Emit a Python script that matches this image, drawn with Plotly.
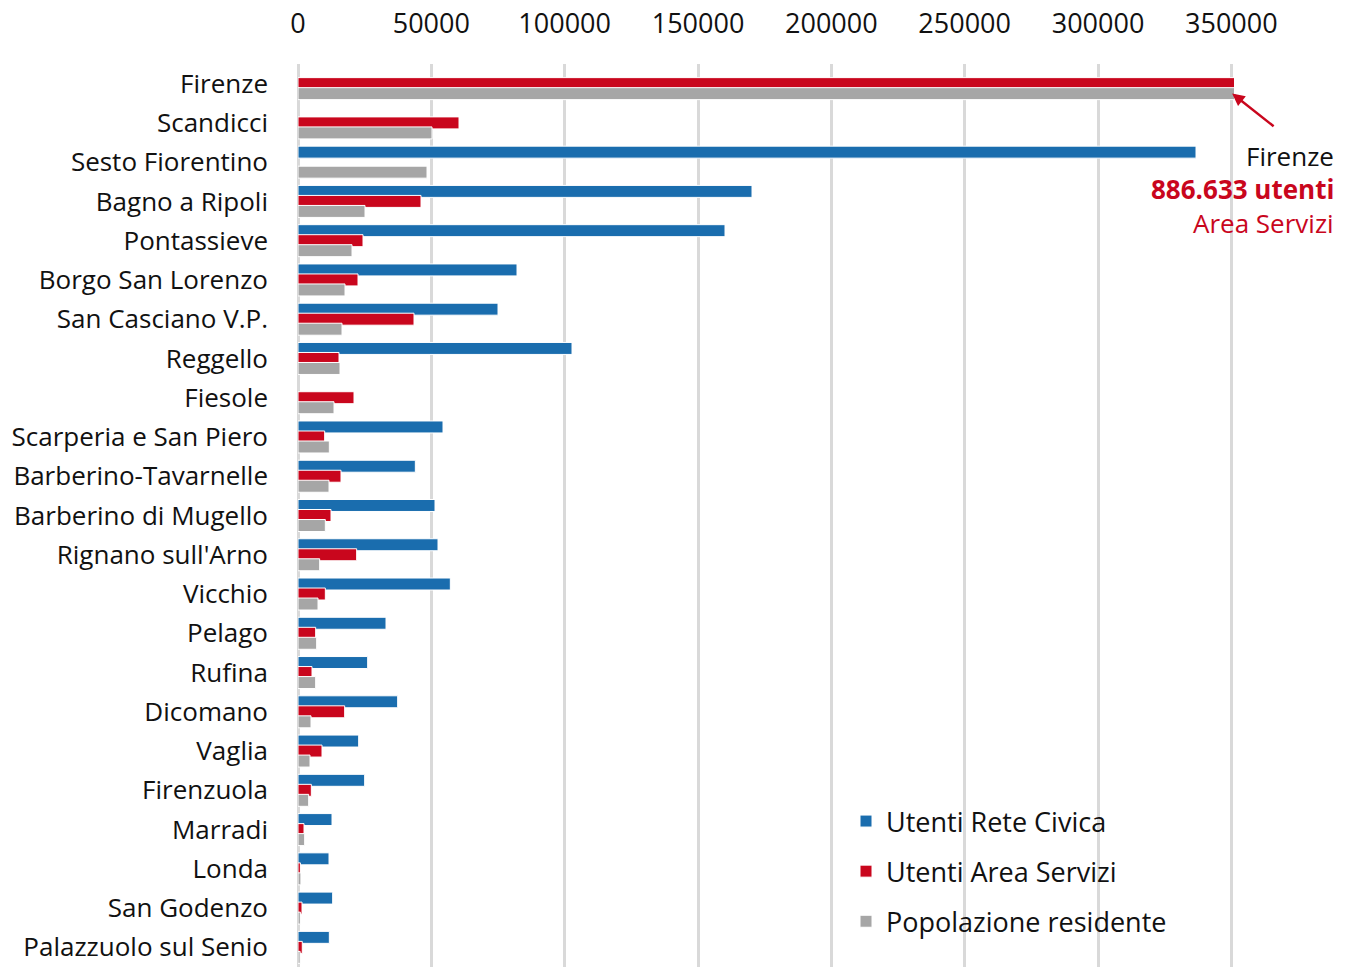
import plotly.graph_objects as go

comuni = ["Firenze", "Scandicci", "Sesto Fiorentino", "Bagno a Ripoli", "Pontassieve",
          "Borgo San Lorenzo", "San Casciano V.P.", "Reggello", "Fiesole",
          "Scarperia e San Piero", "Barberino-Tavarnelle", "Barberino di Mugello",
          "Rignano sull'Arno", "Vicchio", "Pelago", "Rufina", "Dicomano", "Vaglia",
          "Firenzuola", "Marradi", "Londa", "San Godenzo", "Palazzuolo sul Senio"]

utenti_rete_civica = [None, None, 336750, 170250, 160125, 82125, 75000, 102750, None,
                      54375, 44000, 51375, 52500, 57125, 33000, 26125, 37375, 22750,
                      25000, 12750, 11625, 13000, 11750]
utenti_area_servizi = [886633, 60375, None, 46125, 24375, 22500, 43500, 15375, 21000,
                       10000, 16125, 12375, 22000, 10250, 6625, 5250, 17500, 9000,
                       5000, 2250, 900, 1500, 1600]
popolazione_residente = [367000, 50250, 48375, 25125, 20250, 17625, 16500, 15750, 13500,
                         11750, 11625, 10250, 8125, 7500, 7000, 6625, 4875, 4500,
                         4000, 2500, 1100, 900, 800]

x_ticks = [0, 50000, 100000, 150000, 200000, 250000, 300000, 350000]

BLUE = "#1a6dae"
RED = "#c9061d"
GRAY = "#a6a6a6"
FONT = "Open Sans"

# figure is drawn inside an 8px page margin
FW, FH = 1338, 959
L, T, PW, PH = 290, 56, 936, 903

W = 0.305
STEP = 0.255
series = [
    ("Utenti Rete Civica", utenti_rete_civica, BLUE, -STEP - W / 2),
    ("Utenti Area Servizi", utenti_area_servizi, RED, -W / 2),
    ("Popolazione residente", popolazione_residente, GRAY, STEP - W / 2),
]

fig = go.Figure()
for i, (name, vals, col, off) in enumerate(series):
    fig.add_trace(go.Bar(
        y=comuni, x=vals, orientation="h", name=name,
        marker=dict(color=col, line=dict(color="white", width=1)),
        width=W, offset=off, legendgroup=f"g{i}",
    ))


def px(xs):
    return (xs - 8 - L) / PW


def py(ys):
    return 1 - (ys - 8 - T) / PH


n = len(comuni)
fig.update_layout(
    width=FW, height=FH,
    margin=dict(l=L, r=FW - L - PW, t=T, b=FH - T - PH, autoexpand=False),
    barmode="overlay",
    plot_bgcolor="white", paper_bgcolor="white",
    font=dict(family=FONT, size=26, color="#111111"),
    showlegend=True,
    legend=dict(x=px(846), xanchor="left", y=py(797), yanchor="top",
                bgcolor="rgba(0,0,0,0)", font=dict(size=27, color="#111111"),
                tracegroupgap=12, traceorder="grouped"),
    xaxis=dict(side="top", range=[0, 351000], tickvals=x_ticks,
               ticktext=[str(v) for v in x_ticks],
               showgrid=True, gridcolor="#d9d9d9", gridwidth=3,
               zeroline=True, zerolinecolor="#d9d9d9", zerolinewidth=3,
               tickfont=dict(size=27), ticklabelstandoff=25, showline=False,
               automargin=False),
    yaxis=dict(range=[n - 0.5, -0.5], type="category", showgrid=False,
               tickfont=dict(size=26), ticklabelstandoff=29, showline=False,
               automargin=False),
)

# white legend box covering the gridlines
fig.add_shape(type="rect", xref="paper", yref="paper",
              x0=px(825), x1=px(1110), y0=py(800), y1=py(975),
              fillcolor="white", line=dict(width=0), layer="between")

firenze_val = utenti_area_servizi[0]
fig.add_annotation(x=350300, y=0.25, xref="x", yref="y", text="", showarrow=True,
                   ax=43, ay=34, arrowcolor=RED, arrowwidth=2.5, arrowhead=2,
                   arrowsize=1)
fig.add_annotation(x=px(1336), y=py(156), xref="paper", yref="paper",
                   xanchor="right", yanchor="middle", showarrow=False,
                   text="Firenze", font=dict(size=26, color="#111111"))
fig.add_annotation(x=px(1336), y=py(189), xref="paper", yref="paper",
                   xanchor="right", yanchor="middle", showarrow=False,
                   text="<b>" + f"{firenze_val:,}".replace(",", ".") + " utenti</b>",
                   font=dict(size=26, color=RED))
fig.add_annotation(x=px(1336), y=py(223), xref="paper", yref="paper",
                   xanchor="right", yanchor="middle", showarrow=False,
                   text="Area Servizi", font=dict(size=26, color=RED))

fig.write_html("out.html")
